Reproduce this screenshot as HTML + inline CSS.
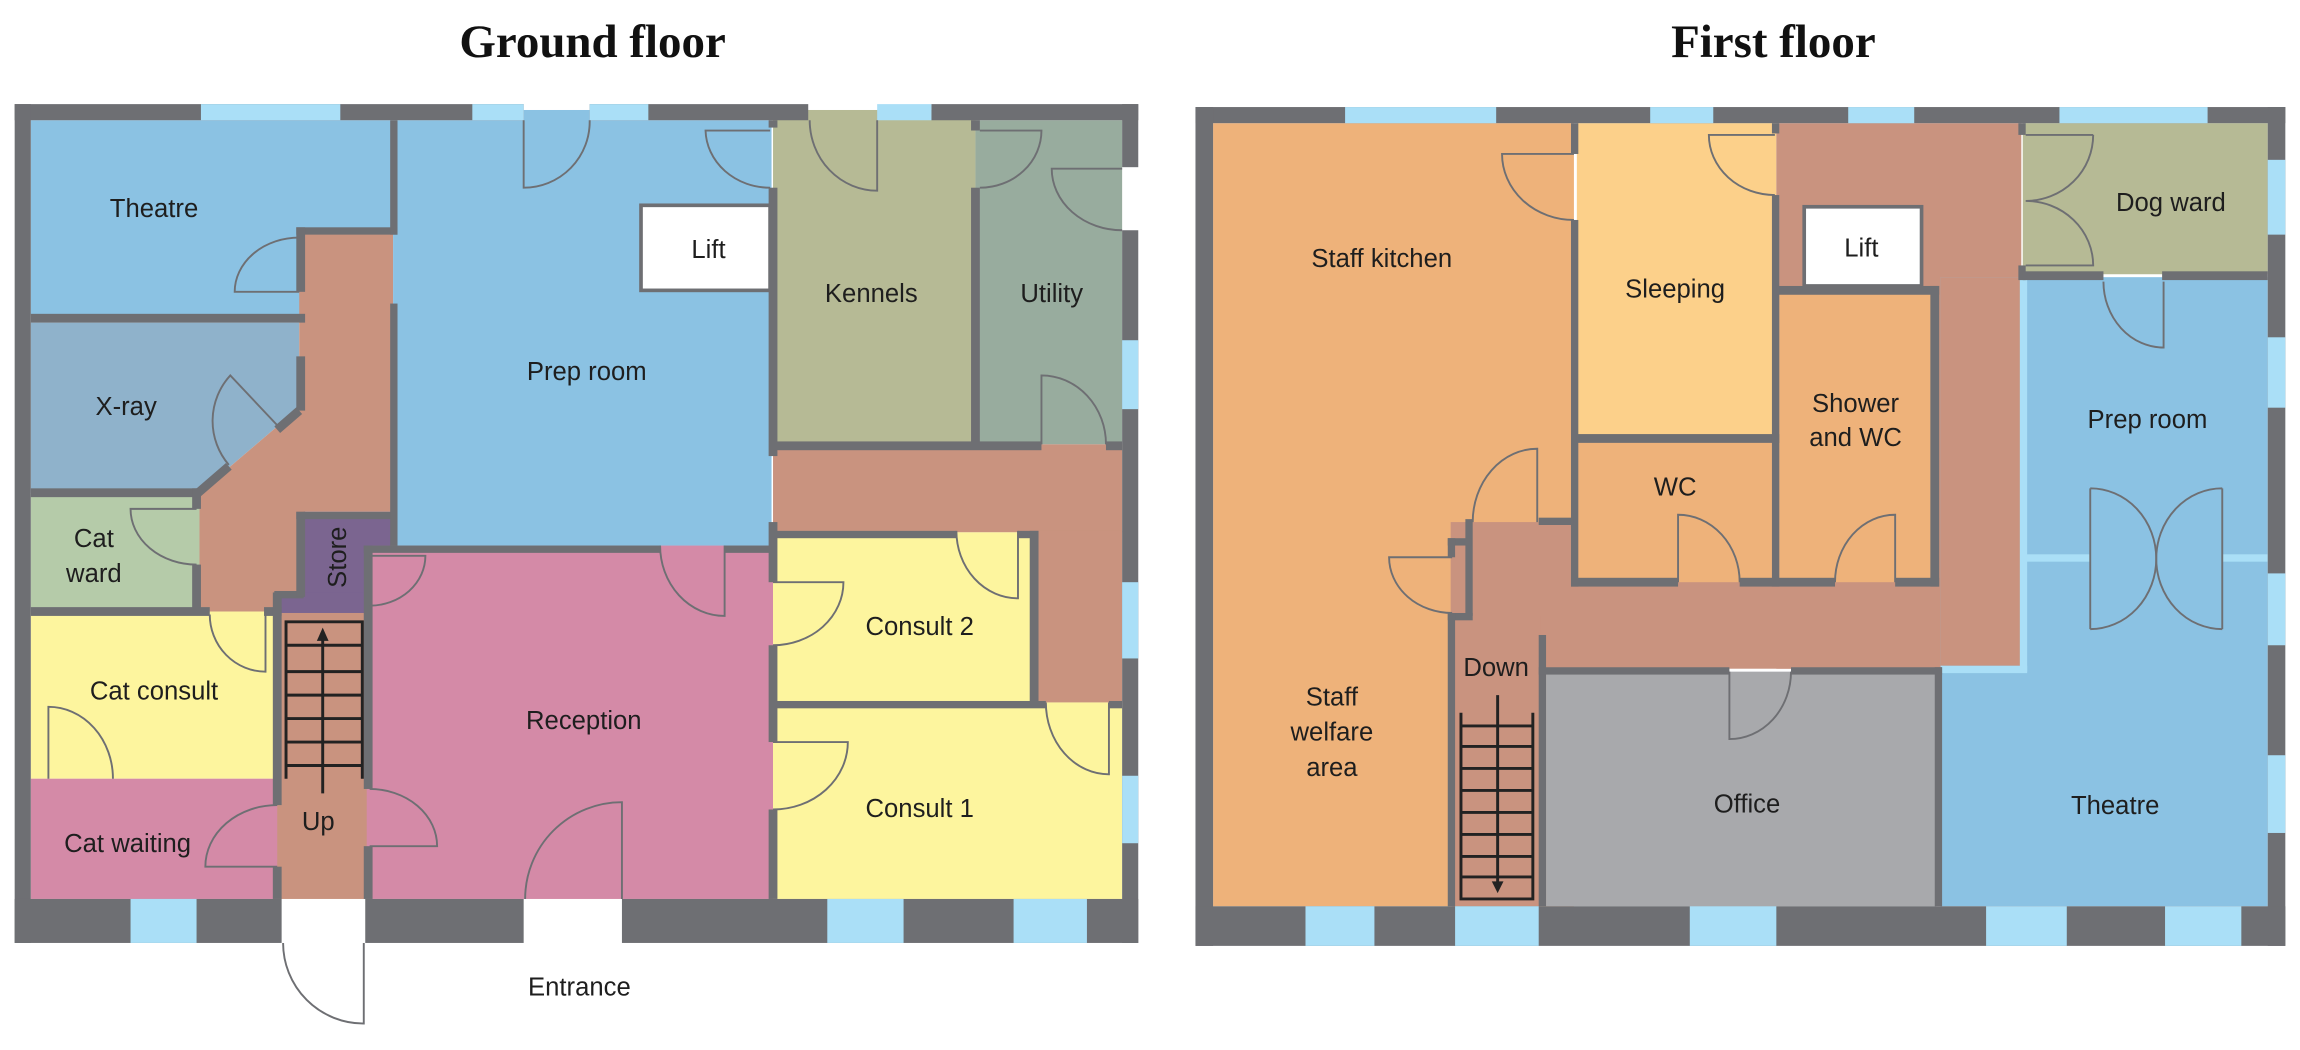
<!DOCTYPE html>
<html><head><meta charset="utf-8"><style>
html,body{margin:0;padding:0;background:#fff;}
svg{display:block}
text{font-family:"Liberation Sans",sans-serif;fill:#1e1e1e;font-size:17.5px;text-anchor:middle}
.t{font-family:"Liberation Serif",serif;font-weight:bold;font-size:32px;fill:#111}
.d{fill:none;stroke:#6e6f73;stroke-width:1.3}
.s{fill:none;stroke:#222;stroke-width:2}
</style></head><body>
<svg width="2300" height="1050" viewBox="0 0 1568 716" preserveAspectRatio="none" xmlns="http://www.w3.org/2000/svg">
<text class="t" x="404" y="39">Ground floor</text>
<text class="t" x="1209" y="39">First floor</text>

<!-- ============ GROUND FLOOR ============ -->
<g>
<rect x="21" y="82" width="247" height="133" fill="#8bc2e3"/>
<polygon points="21,220 204,220 204,278 136,336 21,336" fill="#8fb2cb"/>
<polygon points="204,157 268,157 268,349 208,349 208,404 190,404 190,417 136,417 136,336 204,278" fill="#c9937f"/>
<rect x="21" y="337" width="115" height="80" fill="#b5cba9"/>
<rect x="21" y="417" width="168" height="114" fill="#fdf59e"/>
<rect x="21" y="531" width="169" height="82" fill="#d48aa7"/>
<rect x="189" y="417" width="62" height="196" fill="#c9937f"/>
<rect x="207" y="349" width="61" height="58" fill="#7b6590"/>
<rect x="189" y="404" width="62" height="14" fill="#7b6590"/>
<rect x="250" y="372" width="277" height="241" fill="#d48aa7"/>
<rect x="268" y="82" width="258" height="290" fill="#8bc2e3"/>
<rect x="357" y="75" width="45" height="8" fill="#8bc2e3"/>
<rect x="527" y="75" width="138" height="228" fill="#b6ba95"/>
<rect x="665" y="82" width="100" height="221" fill="#98ac9e"/>
<rect x="527" y="303" width="238" height="60" fill="#c9937f"/>
<rect x="705" y="362" width="60" height="117" fill="#c9937f"/>
<rect x="527" y="363" width="178" height="116" fill="#fdf59e"/>
<rect x="527" y="479" width="238" height="134" fill="#fdf59e"/>
<rect x="437" y="140" width="88" height="58" fill="#fff" stroke="#6e6f73" stroke-width="2.5"/>

<g fill="#6e6f73">
<rect x="10" y="71" width="347" height="11"/>
<rect x="402" y="71" width="149" height="11"/>
<rect x="635" y="71" width="141" height="11"/>
<rect x="10" y="71" width="11" height="572"/>
<rect x="765" y="71" width="11" height="43"/>
<rect x="765" y="157" width="11" height="486"/>
<rect x="10" y="613" width="182" height="30"/>
<rect x="249" y="613" width="108" height="30"/>
<rect x="424" y="613" width="352" height="30"/>
<rect x="21" y="214" width="187" height="6"/>
<rect x="202" y="155" width="69" height="5"/>
<rect x="202" y="155" width="6" height="44"/>
<rect x="202" y="243" width="6" height="37"/>
<rect x="21" y="333" width="115" height="6"/>
<rect x="131" y="333" width="6" height="14"/>
<rect x="131" y="385" width="6" height="32"/>
<rect x="21" y="414" width="122" height="6"/>
<rect x="180" y="414" width="12" height="6"/>
<rect x="186" y="404" width="6" height="145"/>
<rect x="186" y="591" width="6" height="22"/>
<rect x="187" y="403" width="20" height="5"/>
<rect x="202" y="349" width="6" height="58"/>
<rect x="202" y="349" width="66" height="5"/>
<rect x="248" y="372" width="6" height="166"/>
<rect x="248" y="577" width="6" height="36"/>
<rect x="248" y="372" width="202" height="5"/>
<rect x="494" y="372" width="33" height="5"/>
<rect x="266" y="82" width="5" height="78"/>
<rect x="266" y="207" width="5" height="165"/>
<rect x="524" y="82" width="6" height="5"/>
<rect x="524" y="128" width="6" height="183"/>
<rect x="524" y="356" width="6" height="41"/>
<rect x="524" y="440" width="6" height="66"/>
<rect x="524" y="552" width="6" height="61"/>
<rect x="662" y="82" width="6" height="7"/>
<rect x="662" y="128" width="6" height="176"/>
<rect x="527" y="301" width="183" height="6"/>
<rect x="754" y="301" width="11" height="6"/>
<rect x="527" y="362" width="125" height="5"/>
<rect x="694" y="362" width="14" height="5"/>
<rect x="702" y="362" width="6" height="119"/>
<rect x="527" y="478" width="186" height="5"/>
<rect x="756" y="478" width="9" height="5"/>
</g>
<line x1="204" y1="280" x2="189" y2="293" stroke="#6e6f73" stroke-width="6"/>
<line x1="156" y1="318" x2="134" y2="337" stroke="#6e6f73" stroke-width="6"/>
<g fill="#aadff7">
<rect x="137" y="71" width="95" height="11"/>
<rect x="322" y="71" width="35" height="11"/>
<rect x="402" y="71" width="40" height="11"/>
<rect x="598" y="71" width="37" height="11"/>
<rect x="765" y="232" width="11" height="47"/>
<rect x="765" y="397" width="11" height="52"/>
<rect x="765" y="529" width="11" height="46"/>
<rect x="89" y="613" width="45" height="30"/>
<rect x="564" y="613" width="52" height="30"/>
<rect x="691" y="613" width="50" height="30"/>
</g>
<path class="d" d="M357,82 L357,128 A45,45 0 0 0 402,82"/>
<path class="d" d="M525,89 L481,89 A44,40 0 0 0 525,128"/>
<path class="d" d="M598,82 L598,130 A46,48 0 0 1 552,82"/>
<path class="d" d="M668,89 L710,89 A42,39 0 0 1 668,128"/>
<path class="d" d="M765,115 L717,115 A48,42 0 0 0 765,157"/>
<path class="d" d="M710,303 L710,256 A44,47 0 0 1 754,303"/>
<path class="d" d="M694,362 L694,408 A42,46 0 0 1 652,362"/>
<path class="d" d="M527,397 L575,397 A48,43 0 0 1 527,440"/>
<path class="d" d="M527,506 L578,506 A51,46 0 0 1 527,552"/>
<path class="d" d="M756,479 L756,528 A43,49 0 0 1 713,479"/>
<path class="d" d="M494,372 L494,420 A44,48 0 0 1 450,372"/>
<path class="d" d="M252,379 L290,379 A38,34 0 0 1 252,413"/>
<path class="d" d="M252,577 L298,577 A46,39 0 0 0 252,538"/>
<path class="d" d="M424,613 L424,547 A66,66 0 0 0 358,613"/>
<path class="d" d="M248,643 L248,698 A55,55 0 0 1 193,643"/>
<path class="d" d="M189,591 L140,591 A49,42 0 0 1 189,549"/>
<path class="d" d="M181,419 L181,458 A38,39 0 0 1 143,419"/>
<path class="d" d="M33,531 L33,482 A44,49 0 0 1 77,531"/>
<path class="d" d="M134,347 L89,347 A45,38 0 0 0 134,385"/>
<path class="d" d="M204,199 L160,199 A44,37 0 0 1 204,162"/>
<path class="d" d="M189,290 L157,256 A46,46 0 0 0 156,317"/>
<g class="s">
<path d="M195,531 V424 H247 V531"/>
<path d="M195,440 H247 M195,458 H247 M195,474 H247 M195,490 H247 M195,506 H247 M195,522 H247"/>
<path d="M220,541 V434"/>
</g>
<polygon points="220,428 216,437 224,437" fill="#222"/>
<text x="105" y="148">Theatre</text>
<text x="86" y="283">X-ray</text>
<text x="64" y="373">Cat</text>
<text x="64" y="397">ward</text>
<text x="105" y="477">Cat consult</text>
<text x="87" y="581">Cat waiting</text>
<text x="217" y="566">Up</text>
<text x="0" y="0" transform="translate(236,380) rotate(-90)">Store</text>
<text x="400" y="259">Prep room</text>
<text x="483" y="176">Lift</text>
<text x="594" y="206">Kennels</text>
<text x="717" y="206">Utility</text>
<text x="627" y="433">Consult 2</text>
<text x="398" y="497">Reception</text>
<text x="627" y="557">Consult 1</text>
<text x="395" y="679">Entrance</text>
</g>

<!-- ============ FIRST FLOOR ============ -->
<g>
<rect x="827" y="84" width="246" height="534" fill="#eeb27a"/>
<rect x="1075" y="84" width="136" height="214" fill="#fcd08a"/>
<rect x="1211" y="84" width="167" height="372" fill="#c9937f"/>
<rect x="989" y="356" width="389" height="100" fill="#c9937f"/>
<rect x="990" y="420" width="60" height="198" fill="#c9937f"/>
<rect x="1075" y="300" width="136" height="97" fill="#eeb27a"/>
<rect x="1213" y="198" width="106" height="199" fill="#eeb27a"/>
<rect x="1379" y="84" width="167" height="103" fill="#b6ba95"/>
<rect x="1323" y="189" width="223" height="429" fill="#8bc2e3"/>
<rect x="1323" y="189" width="56" height="265" fill="#c9937f"/>
<rect x="1054" y="458" width="266" height="160" fill="#a8a9ac"/>
<rect x="1230" y="141" width="80" height="54" fill="#fff" stroke="#6e6f73" stroke-width="2.5"/>
<g fill="#aadff7">
<rect x="1377" y="189" width="5" height="269"/>
<rect x="1323" y="454" width="59" height="5"/>
<rect x="1381" y="378" width="44" height="5"/>
<rect x="1515" y="378" width="31" height="5"/>
</g>
<g fill="#6e6f73">
<rect x="815" y="73" width="743" height="11"/>
<rect x="815" y="73" width="12" height="572"/>
<rect x="1546" y="73" width="12" height="572"/>
<rect x="815" y="618" width="743" height="27"/>
<rect x="1071" y="84" width="5" height="21"/>
<rect x="1071" y="150" width="5" height="250"/>
<rect x="1049" y="353" width="24" height="5"/>
<rect x="999" y="354" width="5" height="66"/>
<rect x="987" y="367" width="16" height="5"/>
<rect x="987" y="367" width="5" height="13"/>
<rect x="987" y="418" width="17" height="5"/>
<rect x="987" y="418" width="5" height="200"/>
<rect x="1049" y="433" width="5" height="185"/>
<rect x="1075" y="296" width="138" height="6"/>
<rect x="1208" y="84" width="5" height="7"/>
<rect x="1208" y="133" width="5" height="267"/>
<rect x="1211" y="195" width="111" height="6"/>
<rect x="1316" y="195" width="6" height="205"/>
<rect x="1071" y="394" width="73" height="6"/>
<rect x="1186" y="394" width="65" height="6"/>
<rect x="1292" y="394" width="30" height="6"/>
<rect x="1049" y="455" width="130" height="5"/>
<rect x="1221" y="455" width="103" height="5"/>
<rect x="1319" y="455" width="5" height="163"/>
<rect x="1376" y="84" width="5" height="8"/>
<rect x="1376" y="181" width="5" height="10"/>
<rect x="1379" y="185" width="55" height="6"/>
<rect x="1474" y="185" width="72" height="6"/>
</g>
<g fill="#aadff7">
<rect x="917" y="73" width="103" height="11"/>
<rect x="1125" y="73" width="43" height="11"/>
<rect x="1260" y="73" width="45" height="11"/>
<rect x="1404" y="73" width="101" height="11"/>
<rect x="1546" y="109" width="12" height="51"/>
<rect x="1546" y="230" width="12" height="48"/>
<rect x="1546" y="391" width="12" height="49"/>
<rect x="1546" y="515" width="12" height="53"/>
<rect x="890" y="618" width="47" height="27"/>
<rect x="992" y="618" width="57" height="27"/>
<rect x="1152" y="618" width="59" height="27"/>
<rect x="1354" y="618" width="55" height="27"/>
<rect x="1476" y="618" width="52" height="27"/>
</g>
<path class="d" d="M1073,105 L1024,105 A49,45 0 0 0 1073,150"/>
<path class="d" d="M1210,92 L1165,92 A45,41 0 0 0 1210,133"/>
<path class="d" d="M1048,356 L1048,306 A44,50 0 0 0 1004,356"/>
<path class="d" d="M990,380 L947,380 A43,38 0 0 0 990,418"/>
<path class="d" d="M1144,397 L1144,351 A42,46 0 0 1 1186,397"/>
<path class="d" d="M1292,397 L1292,351 A41,46 0 0 0 1251,397"/>
<path class="d" d="M1179,458 L1179,504 A42,46 0 0 0 1221,458"/>
<path class="d" d="M1427,92 L1381,92 M1427,92 A46,45 0 0 1 1381,137 A46,44 0 0 1 1427,181 L1381,181"/>
<path class="d" d="M1475,192 L1475,237 A41,45 0 0 1 1434,192"/>
<path class="d" d="M1425,333 L1425,429 M1425,333 A45,48 0 0 1 1470,381 A45,48 0 0 1 1425,429"/>
<path class="d" d="M1515,333 L1515,429 M1515,333 A45,48 0 0 0 1470,381 A45,48 0 0 0 1515,429"/>
<g class="s">
<path d="M996,486 V613 H1045 V486"/>
<path d="M996,495 H1045 M996,509 H1045 M996,524 H1045 M996,539 H1045 M996,554 H1045 M996,569 H1045 M996,584 H1045 M996,598 H1045"/>
<path d="M1021,474 V602"/>
</g>
<polygon points="1021,609 1017,601 1025,601" fill="#222"/>
<text x="942" y="182">Staff kitchen</text>
<text x="1142" y="203">Sleeping</text>
<text x="1269" y="175">Lift</text>
<text x="1480" y="144">Dog ward</text>
<text x="1265" y="281">Shower</text>
<text x="1265" y="304">and WC</text>
<text x="1142" y="338">WC</text>
<text x="1464" y="292">Prep room</text>
<text x="908" y="481">Staff</text>
<text x="908" y="505">welfare</text>
<text x="908" y="529">area</text>
<text x="1020" y="461">Down</text>
<text x="1191" y="554">Office</text>
<text x="1442" y="555">Theatre</text>
</g>
</svg>
</body></html>
